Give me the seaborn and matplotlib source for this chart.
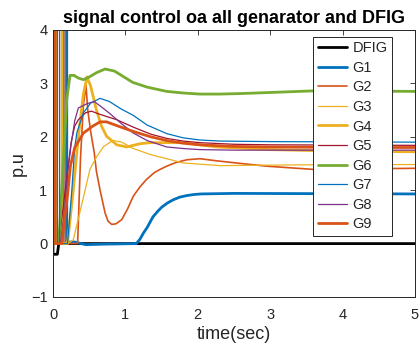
import numpy as np
import pandas as pd
import seaborn as sns
import matplotlib
matplotlib.use("Agg")
import matplotlib.pyplot as plt

# ---------------- data ----------------
t_dfig = [0, 0.0, 0.06, 0.08, 5]
v_dfig = [0, -0.2, -0.2, 0, 0]

t_g1 = [0, 0.14, 0.14, 0.19, 0.19, 0.3, 0.45, 0.7, 1.15, 1.2, 1.25, 1.3, 1.38, 1.45, 1.5, 1.58,
        1.66, 1.75, 1.85, 1.95, 2.05, 2.5, 5]
v_g1 = [0, 0, 4.6, 4.6, 0.03, 0.03, -0.02, -0.01, 0, 0.08, 0.2, 0.3, 0.5, 0.61, 0.68, 0.76,
        0.82, 0.87, 0.9, 0.92, 0.93, 0.94, 0.93]

t_g2 = [0, 0.0, 0.17, 0.17, 0.34, 0.38, 0.42, 0.456, 0.48, 0.52, 0.57, 0.6, 0.65, 0.72, 0.76, 0.81,
        0.87, 0.95, 1.03, 1.11, 1.2, 1.29, 1.4, 1.48, 1.57, 1.7, 1.85, 2.03, 2.26, 2.6, 2.95,
        3.59, 4.2, 5]
v_g2 = [0, 4.6, 4.6, 0, 0, 1.6, 2.6, 2.96, 2.5, 2.1, 1.7, 1.35, 1.0, 0.57, 0.42, 0.36,
        0.37, 0.45, 0.65, 0.89, 1.06, 1.2, 1.33, 1.39, 1.45, 1.52, 1.57, 1.59, 1.55, 1.5, 1.45,
        1.39, 1.4, 1.41]

t_g3 = [0, 0.01, 0.01, 0.05, 0.05, 0.2, 0.28, 0.4, 0.51, 0.6, 0.7, 0.83, 0.95, 1.11, 1.34, 1.8,
        2.31, 3, 4, 5]
v_g3 = [0, 0, 4.6, 4.6, 0, 0, 0.07, 0.75, 1.39, 1.62, 1.82, 1.93, 1.9, 1.78, 1.67, 1.51,
        1.46, 1.47, 1.48, 1.48]

t_g4 = [0, 0.045, 0.045, 0.125, 0.125, 0.2, 0.28, 0.35, 0.42, 0.47, 0.52, 0.6, 0.67, 0.74, 0.88,
        1.02, 1.2, 1.34, 1.8, 2.26, 3, 4, 5]
v_g4 = [0, 0, 4.6, 4.6, 0, 0, 1.0, 2.0, 2.8, 3.12, 2.95, 2.5, 2.2, 2.01, 1.85,
        1.81, 1.87, 1.89, 1.89, 1.81, 1.76, 1.73, 1.72]

t_g5 = [0, 0.08, 0.16, 0.25, 0.3, 0.35, 0.45, 0.53, 0.65, 0.88, 1.11, 1.35, 1.57, 1.8, 2.03, 2.5,
        3, 5]
v_g5 = [0, 0, 0.9, 1.9, 2.2, 2.32, 2.45, 2.48, 2.42, 2.32, 2.18, 2.05, 1.97, 1.92, 1.89, 1.86,
        1.85, 1.84]

t_g6 = [0, 0.08, 0.12, 0.19, 0.235, 0.29, 0.35, 0.42, 0.5, 0.6, 0.72, 0.85, 1.1, 1.3, 1.57, 1.8,
        2.03, 2.3, 2.6, 3.0, 3.59, 4, 5]
v_g6 = [0, 0, 1.0, 2.7, 3.15, 3.15, 3.1, 3.07, 3.12, 3.2, 3.27, 3.23, 3.02, 2.93, 2.85, 2.82,
        2.8, 2.8, 2.81, 2.83, 2.86, 2.86, 2.85]

t_g7 = [0, 0.06, 0.06, 0.09, 0.09, 0.2, 0.26, 0.3, 0.33, 0.42, 0.52, 0.65, 0.78, 0.93, 1.11, 1.3,
        1.57, 1.8, 2.03, 2.31, 3, 5]
v_g7 = [0, 0, 4.6, 4.6, 0, 0, 1.0, 1.8, 2.08, 2.45, 2.63, 2.72, 2.66, 2.53, 2.4, 2.22,
        2.06, 1.98, 1.94, 1.92, 1.91, 1.9]

t_g8 = [0, 0.1, 0.16, 0.2, 0.25, 0.3, 0.35, 0.47, 0.57, 0.65, 0.79, 0.95, 1.11, 1.3, 1.57, 1.8,
        2.03, 2.5, 3, 5]
v_g8 = [0, 0, 0.6, 1.3, 1.85, 2.3, 2.54, 2.62, 2.66, 2.58, 2.43, 2.24, 2.07, 1.93, 1.81, 1.78,
        1.76, 1.75, 1.75, 1.75]

t_g9 = [0, 0.0, 0.03, 0.03, 0.12, 0.2, 0.24, 0.3, 0.42, 0.55, 0.65, 0.74, 0.9, 1.11, 1.35, 1.57,
        1.8, 2.03, 2.5, 3, 4, 5]
v_g9 = [0, 4.6, 4.6, 0, 0, 0.9, 1.45, 1.8, 2.07, 2.2, 2.28, 2.28, 2.2, 2.1, 2.0, 1.93,
        1.88, 1.85, 1.82, 1.81, 1.8, 1.8]

labels = ["DFIG", "G1", "G2", "G3", "G4", "G5", "G6", "G7", "G8", "G9"]
series_t = [t_dfig, t_g1, t_g2, t_g3, t_g4, t_g5, t_g6, t_g7, t_g8, t_g9]
series_v = [v_dfig, v_g1, v_g2, v_g3, v_g4, v_g5, v_g6, v_g7, v_g8, v_g9]

x_ticks = [0, 1, 2, 3, 4, 5]
y_ticks = [-1, 0, 1, 2, 3, 4]

# ---------------- styles ----------------
colors = ["#000000", "#0072BD", "#D95319", "#EDB120", "#EDB120", "#A2142F",
          "#77AC30", "#0072BD", "#7E2F8E", "#D95319"]
widths = [2.0, 2.0, 1.2, 0.9, 2.0, 0.9, 2.0, 0.9, 0.9, 2.0]

sns.set_theme(style="white")
plt.rcParams["font.family"] = ["Liberation Sans", "DejaVu Sans"]

fig = plt.figure(figsize=(4.19, 3.49), dpi=100)
ax = fig.add_axes([53 / 419, 1 - 297 / 349, (415 - 53) / 419, (297 - 30) / 349])

for lab, tt, vv, c, w in zip(labels, series_t, series_v, colors, widths):
    df = pd.DataFrame({"t": tt, "v": vv})
    sns.lineplot(data=df, x="t", y="v", ax=ax, color=c, linewidth=w,
                 sort=False, estimator=None, label=lab)

ax.set_xlim(0, 5)
ax.set_ylim(-1, 4)
ax.set_xticks(x_ticks)
ax.set_yticks(y_ticks)
ax.tick_params(direction="in", length=3.5, width=0.6, top=True, right=True,
               labelsize=10.5, colors="#262626")
ax.tick_params(axis="x", pad=8)
ax.tick_params(axis="y", pad=4)
for s in ax.spines.values():
    s.set_color("#262626")
    s.set_linewidth(0.7)
    s.set_visible(True)

ax.set_xlabel("time(sec)", fontsize=13, color="#262626", labelpad=3)
ax.set_ylabel("p.u", fontsize=13, color="#262626", labelpad=3)
ax.set_title("signal control oa all genarator and DFIG", fontsize=13,
             fontweight="bold", color="#000000", pad=5)

leg = ax.legend(loc="upper right", bbox_to_anchor=((392 - 53) / 362, 1 - (37 - 30) / 267),
                borderaxespad=0, frameon=True, fancybox=False, fontsize=10.5,
                handlelength=2.05, handletextpad=0.35, labelspacing=0.38,
                borderpad=0.3)
leg.get_frame().set_edgecolor("#262626")
leg.get_frame().set_linewidth(0.7)
leg.get_frame().set_facecolor("white")
leg.get_frame().set_alpha(1)

fig.savefig("out.png", dpi=100, facecolor="white")
